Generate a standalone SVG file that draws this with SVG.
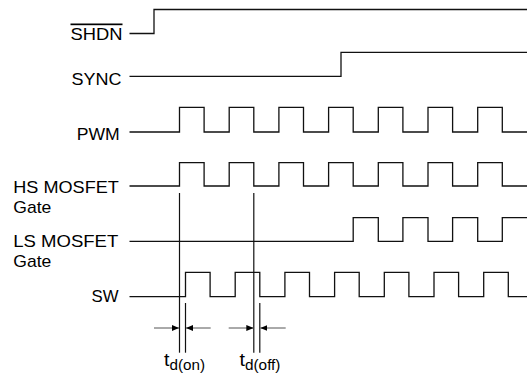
<svg xmlns="http://www.w3.org/2000/svg" width="527" height="376" viewBox="0 0 527 376">
  <style>
    .lbl { font-family: "Liberation Sans", Arial, Helvetica, sans-serif; font-size: 17px; fill: #000; }
    .t { font-size: 18px; }
    .sub { font-size: 14px; }
    .wave { fill: none; stroke: #111; stroke-width: 1.3; stroke-linejoin: miter; }
    .mark { fill: none; stroke: #111; stroke-width: 1.2; }
    .dim { fill: none; stroke: #555; stroke-width: 1; }
  </style>
  <defs>
    <marker id="ah" viewBox="0 0 7 6" refX="7" refY="3" markerWidth="7" markerHeight="6" markerUnits="userSpaceOnUse" orient="auto">
      <path d="M0,0 L7,3 L0,6 Z" fill="#000"/>
    </marker>
  </defs>
  <rect width="527" height="376" fill="#fff"/>

  <g id="shdn">
    <text class="lbl" x="70.5" y="39.5" textLength="52" lengthAdjust="spacingAndGlyphs" text-decoration="overline">SHDN</text>
    <path class="wave" d="M129.5,33.5 H154 V9.5 H527"/>
  </g>

  <g id="sync">
    <text class="lbl" x="71.5" y="84.5" textLength="50" lengthAdjust="spacingAndGlyphs">SYNC</text>
    <path class="wave" d="M129.5,76.3 H341 V52.3 H527"/>
  </g>

  <g id="pwm">
    <text class="lbl" x="76.7" y="140" textLength="43" lengthAdjust="spacingAndGlyphs">PWM</text>
    <path class="wave" d="M129.5,132 H179.5 V107.3 H204.1 V132 H229.2 V107.3 H253.8 V132 H278.9 V107.3 H303.5 V132 H328.6 V107.3 H353.2 V132 H378.3 V107.3 H402.9 V132 H428 V107.3 H452.6 V132 H477.7 V107.3 H502.3 V132 H527"/>
  </g>

  <g id="hs-gate">
    <text class="lbl" x="13.3" y="192.5" textLength="105.5" lengthAdjust="spacingAndGlyphs">HS MOSFET</text>
    <text class="lbl" x="13.3" y="213" textLength="38" lengthAdjust="spacingAndGlyphs">Gate</text>
    <path class="wave" d="M129.5,186 H179.5 V162.7 H204.1 V186 H229.2 V162.7 H253.8 V186 H278.9 V162.7 H303.5 V186 H328.6 V162.7 H353.2 V186 H378.3 V162.7 H402.9 V186 H428 V162.7 H452.6 V186 H477.7 V162.7 H502.3 V186 H527"/>
  </g>

  <g id="ls-gate">
    <text class="lbl" x="13.3" y="246.5" textLength="105" lengthAdjust="spacingAndGlyphs">LS MOSFET</text>
    <text class="lbl" x="13.3" y="266.5" textLength="38" lengthAdjust="spacingAndGlyphs">Gate</text>
    <path class="wave" d="M129.5,241.3 H353.2 V217.7 H378.3 V241.3 H402.9 V217.7 H428 V241.3 H452.6 V217.7 H477.7 V241.3 H502.3 V217.7 H527"/>
  </g>

  <g id="sw">
    <text class="lbl" x="91.5" y="301.5" textLength="27" lengthAdjust="spacingAndGlyphs">SW</text>
    <path class="wave" d="M129.5,296.7 H185.5 V272.3 H210.1 V296.7 H235.2 V272.3 H259.8 V296.7 H284.9 V272.3 H309.5 V296.7 H334.6 V272.3 H359.2 V296.7 H384.3 V272.3 H408.9 V296.7 H434 V272.3 H458.6 V296.7 H483.7 V272.3 H508.3 V296.7 H527"/>
  </g>

  <g id="connectors">
    <line class="mark" x1="179.5" y1="193" x2="179.5" y2="352.7"/>
    <line class="mark" x1="253.8" y1="193" x2="253.8" y2="352.7"/>
    <line class="mark" x1="185.5" y1="303" x2="185.5" y2="352.7"/>
    <line class="mark" x1="259.8" y1="303" x2="259.8" y2="352.7"/>
    <line class="dim" x1="154" y1="328" x2="179" y2="328" marker-end="url(#ah)"/>
    <line class="dim" x1="210.7" y1="328" x2="186" y2="328" marker-end="url(#ah)"/>
    <line class="dim" x1="228.7" y1="328" x2="253.3" y2="328" marker-end="url(#ah)"/>
    <line class="dim" x1="285.7" y1="328" x2="260.3" y2="328" marker-end="url(#ah)"/>
  </g>

  <g id="timing-labels">
    <text class="lbl t" x="164" y="365.5" textLength="41" lengthAdjust="spacingAndGlyphs">t<tspan class="sub" dy="4.5">d(on)</tspan></text>
    <text class="lbl t" x="239.5" y="365.5" textLength="41" lengthAdjust="spacingAndGlyphs">t<tspan class="sub" dy="4.5">d(off)</tspan></text>
  </g>
</svg>
